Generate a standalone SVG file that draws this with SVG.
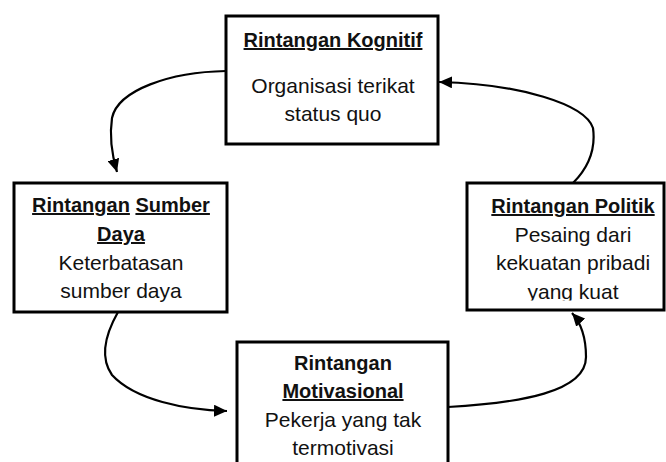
<svg xmlns="http://www.w3.org/2000/svg" width="666" height="462" viewBox="0 0 666 462">
<style>
.box{fill:#fff;stroke:#000;stroke-width:3}
.t{font-family:"Liberation Sans",Arial,sans-serif;font-size:21px;fill:#111;text-anchor:middle}
.b{font-weight:bold;font-size:20px}
.u{text-decoration:underline}
.c{fill:none;stroke:#000;stroke-width:2.2}
</style>
<defs>
<marker id="ah" markerUnits="userSpaceOnUse" markerWidth="14" markerHeight="12" refX="13" refY="6" orient="auto">
<path d="M0,0 L13,6 L0,12 Z" fill="#000"/>
</marker>
<clipPath id="clipR"><rect x="467" y="183" width="198" height="117.5"/></clipPath>
</defs>
<rect width="666" height="462" fill="#fff"/>
<g id="connectors">
<path class="c" d="M226,71 C170,72 118,90 112,118 C109,138 112,155 117,172" marker-end="url(#ah)"/>
<path class="c" d="M118,312 C105,335 100,358 112,375 C135,400 185,410 227,411" marker-end="url(#ah)"/>
<path class="c" d="M448,407 C520,403 586,392 586,357 C586,337 581,323 572,313" marker-end="url(#ah)"/>
<path class="c" d="M573,183 C588,168 596,150 593,128 C585,104 520,84 439,82" marker-end="url(#ah)"/>
</g>
<g id="node-kognitif">
<rect class="box" x="226" y="16" width="212" height="128"/>
<text class="t b u" x="333" y="47">Rintangan Kognitif</text>
<text class="t" x="333" y="93">Organisasi terikat</text>
<text class="t" x="333" y="121">status quo</text>
</g>
<g id="node-sumber">
<rect class="box" x="14" y="183" width="213" height="129"/>
<text class="t b" x="121" y="212"><tspan class="u">Rintangan</tspan> <tspan class="u">Sumber</tspan></text>
<text class="t b u" x="121" y="241">Daya</text>
<text class="t" x="121" y="270">Keterbatasan</text>
<text class="t" x="121" y="298">sumber daya</text>
</g>
<g id="node-politik">
<rect class="box" x="467" y="183" width="197" height="127"/>
<text class="t b u" x="573" y="213">Rintangan Politik</text>
<text class="t" x="573" y="242">Pesaing dari</text>
<text class="t" x="573" y="270">kekuatan pribadi</text>
<text class="t" x="573" y="299" clip-path="url(#clipR)">yang kuat</text>
</g>
<g id="node-motivasional">
<rect class="box" x="237" y="342" width="211" height="130"/>
<text class="t b" x="343" y="370">Rintangan</text>
<text class="t b u" x="343" y="398">Motivasional</text>
<text class="t" x="343" y="427">Pekerja yang tak</text>
<text class="t" x="343" y="455">termotivasi</text>
</g>
</svg>
